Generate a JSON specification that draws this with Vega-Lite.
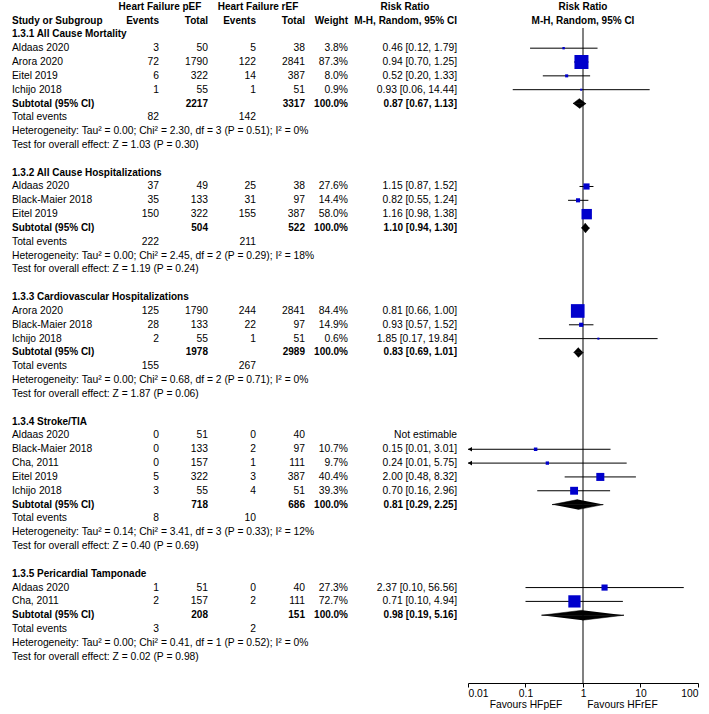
{
  "$schema": "https://vega.github.io/schema/vega-lite/v6.json",
  "padding": 0,
  "spacing": 0,
  "bounds": "flush",
  "config": {
    "view": {"stroke": null},
    "text": {"font": "Liberation Sans", "fontSize": 10.3, "baseline": "middle", "color": "#000"}
  },
  "datasets": {
    "studies": [
      {"row": 3, "study": "Aldaas 2020", "e1": 3, "n1": 50, "e2": 5, "n2": 38, "w": 0.038, "rr": 0.46, "lo": 0.12, "hi": 1.79, "ci": "0.46 [0.12, 1.79]"},
      {"row": 4, "study": "Arora 2020", "e1": 72, "n1": 1790, "e2": 122, "n2": 2841, "w": 0.873, "rr": 0.94, "lo": 0.70, "hi": 1.25, "ci": "0.94 [0.70, 1.25]"},
      {"row": 5, "study": "Eitel 2019", "e1": 6, "n1": 322, "e2": 14, "n2": 387, "w": 0.080, "rr": 0.52, "lo": 0.20, "hi": 1.33, "ci": "0.52 [0.20, 1.33]"},
      {"row": 6, "study": "Ichijo 2018", "e1": 1, "n1": 55, "e2": 1, "n2": 51, "w": 0.009, "rr": 0.93, "lo": 0.06, "hi": 14.44, "ci": "0.93 [0.06, 14.44]"},
      {"row": 13, "study": "Aldaas 2020", "e1": 37, "n1": 49, "e2": 25, "n2": 38, "w": 0.276, "rr": 1.15, "lo": 0.87, "hi": 1.52, "ci": "1.15 [0.87, 1.52]"},
      {"row": 14, "study": "Black-Maier 2018", "e1": 35, "n1": 133, "e2": 31, "n2": 97, "w": 0.144, "rr": 0.82, "lo": 0.55, "hi": 1.24, "ci": "0.82 [0.55, 1.24]"},
      {"row": 15, "study": "Eitel 2019", "e1": 150, "n1": 322, "e2": 155, "n2": 387, "w": 0.580, "rr": 1.16, "lo": 0.98, "hi": 1.38, "ci": "1.16 [0.98, 1.38]"},
      {"row": 22, "study": "Arora 2020", "e1": 125, "n1": 1790, "e2": 244, "n2": 2841, "w": 0.844, "rr": 0.81, "lo": 0.66, "hi": 1.00, "ci": "0.81 [0.66, 1.00]"},
      {"row": 23, "study": "Black-Maier 2018", "e1": 28, "n1": 133, "e2": 22, "n2": 97, "w": 0.149, "rr": 0.93, "lo": 0.57, "hi": 1.52, "ci": "0.93 [0.57, 1.52]"},
      {"row": 24, "study": "Ichijo 2018", "e1": 2, "n1": 55, "e2": 1, "n2": 51, "w": 0.006, "rr": 1.85, "lo": 0.17, "hi": 19.84, "ci": "1.85 [0.17, 19.84]"},
      {"row": 31, "study": "Aldaas 2020", "e1": 0, "n1": 51, "e2": 0, "n2": 40, "ci": "Not estimable"},
      {"row": 32, "study": "Black-Maier 2018", "e1": 0, "n1": 133, "e2": 2, "n2": 97, "w": 0.107, "rr": 0.15, "lo": 0.01, "hi": 3.01, "ci": "0.15 [0.01, 3.01]"},
      {"row": 33, "study": "Cha, 2011", "e1": 0, "n1": 157, "e2": 1, "n2": 111, "w": 0.097, "rr": 0.24, "lo": 0.01, "hi": 5.75, "ci": "0.24 [0.01, 5.75]"},
      {"row": 34, "study": "Eitel 2019", "e1": 5, "n1": 322, "e2": 3, "n2": 387, "w": 0.404, "rr": 2.00, "lo": 0.48, "hi": 8.32, "ci": "2.00 [0.48, 8.32]"},
      {"row": 35, "study": "Ichijo 2018", "e1": 3, "n1": 55, "e2": 4, "n2": 51, "w": 0.393, "rr": 0.70, "lo": 0.16, "hi": 2.96, "ci": "0.70 [0.16, 2.96]"},
      {"row": 42, "study": "Aldaas 2020", "e1": 1, "n1": 51, "e2": 0, "n2": 40, "w": 0.273, "rr": 2.37, "lo": 0.10, "hi": 56.56, "ci": "2.37 [0.10, 56.56]"},
      {"row": 43, "study": "Cha, 2011", "e1": 2, "n1": 157, "e2": 2, "n2": 111, "w": 0.727, "rr": 0.71, "lo": 0.10, "hi": 4.94, "ci": "0.71 [0.10, 4.94]"}
    ],
    "subtotals": [
      {"row": 7, "n1": 2217, "n2": 3317, "w": 1, "rr": 0.87, "lo": 0.67, "hi": 1.13, "ci": "0.87 [0.67, 1.13]"},
      {"row": 16, "n1": 504, "n2": 522, "w": 1, "rr": 1.10, "lo": 0.94, "hi": 1.30, "ci": "1.10 [0.94, 1.30]"},
      {"row": 25, "n1": 1978, "n2": 2989, "w": 1, "rr": 0.83, "lo": 0.69, "hi": 1.01, "ci": "0.83 [0.69, 1.01]"},
      {"row": 36, "n1": 718, "n2": 686, "w": 1, "rr": 0.81, "lo": 0.29, "hi": 2.25, "ci": "0.81 [0.29, 2.25]"},
      {"row": 44, "n1": 208, "n2": 151, "w": 1, "rr": 0.98, "lo": 0.19, "hi": 5.16, "ci": "0.98 [0.19, 5.16]"}
    ],
    "headings": [
      {"row": 2, "label": "1.3.1 All Cause Mortality"},
      {"row": 12, "label": "1.3.2 All Cause Hospitalizations"},
      {"row": 21, "label": "1.3.3 Cardiovascular Hospitalizations"},
      {"row": 30, "label": "1.3.4 Stroke/TIA"},
      {"row": 41, "label": "1.3.5 Pericardial Tamponade"}
    ],
    "totals": [
      {"row": 8, "e1": 82, "e2": 142},
      {"row": 17, "e1": 222, "e2": 211},
      {"row": 26, "e1": 155, "e2": 267},
      {"row": 37, "e1": 8, "e2": 10},
      {"row": 45, "e1": 3, "e2": 2}
    ],
    "notes": [
      {"row": 9, "label": "Heterogeneity: Tau² = 0.00; Chi² = 2.30, df = 3 (P = 0.51); I² = 0%"},
      {"row": 10, "label": "Test for overall effect: Z = 1.03 (P = 0.30)"},
      {"row": 18, "label": "Heterogeneity: Tau² = 0.00; Chi² = 2.45, df = 2 (P = 0.29); I² = 18%"},
      {"row": 19, "label": "Test for overall effect: Z = 1.19 (P = 0.24)"},
      {"row": 27, "label": "Heterogeneity: Tau² = 0.00; Chi² = 0.68, df = 2 (P = 0.71); I² = 0%"},
      {"row": 28, "label": "Test for overall effect: Z = 1.87 (P = 0.06)"},
      {"row": 38, "label": "Heterogeneity: Tau² = 0.14; Chi² = 3.41, df = 3 (P = 0.33); I² = 12%"},
      {"row": 39, "label": "Test for overall effect: Z = 0.40 (P = 0.69)"},
      {"row": 46, "label": "Heterogeneity: Tau² = 0.00; Chi² = 0.41, df = 1 (P = 0.52); I² = 0%"},
      {"row": 47, "label": "Test for overall effect: Z = 0.02 (P = 0.98)"}
    ]
  },
  "hconcat": [
    {
      "width": 468,
      "height": 683,
      "layer": [
        {"data": {"values": [{}]}, "mark": {"type": "text", "text": "Heart Failure pEF", "fontWeight": "bold", "fontSize": 10, "align": "center"},
         "encoding": {"x": {"datum": 34.19, "type": "quantitative", "scale": {"domain": [0, 100], "nice": false, "zero": false}, "axis": null}, "y": {"datum": 0, "type": "quantitative", "scale": {"domain": [-0.484, 48.9], "reverse": true, "nice": false, "zero": false}, "axis": null}}},
        {"data": {"values": [{}]}, "mark": {"type": "text", "text": "Heart Failure rEF", "fontWeight": "bold", "fontSize": 10, "align": "center"},
         "encoding": {"x": {"datum": 55.13, "type": "quantitative", "scale": {"domain": [0, 100], "nice": false, "zero": false}, "axis": null}, "y": {"datum": 0, "type": "quantitative", "scale": {"domain": [-0.484, 48.9], "reverse": true, "nice": false, "zero": false}, "axis": null}}},
        {"data": {"values": [{}]}, "mark": {"type": "text", "text": "Risk Ratio", "fontWeight": "bold", "fontSize": 10, "align": "center"},
         "encoding": {"x": {"datum": 86.54, "type": "quantitative", "scale": {"domain": [0, 100], "nice": false, "zero": false}, "axis": null}, "y": {"datum": 0, "type": "quantitative", "scale": {"domain": [-0.484, 48.9], "reverse": true, "nice": false, "zero": false}, "axis": null}}},
        {"data": {"values": [{}]}, "mark": {"type": "text", "text": "Study or Subgroup", "fontWeight": "bold", "fontSize": 10, "align": "left"},
         "encoding": {"x": {"datum": 2.56, "type": "quantitative", "scale": {"domain": [0, 100], "nice": false, "zero": false}, "axis": null}, "y": {"datum": 1, "type": "quantitative", "scale": {"domain": [-0.484, 48.9], "reverse": true, "nice": false, "zero": false}, "axis": null}}},
        {"data": {"values": [{}]}, "mark": {"type": "text", "text": "Events", "fontWeight": "bold", "fontSize": 10, "align": "right"},
         "encoding": {"x": {"datum": 33.97, "type": "quantitative", "scale": {"domain": [0, 100], "nice": false, "zero": false}, "axis": null}, "y": {"datum": 1, "type": "quantitative", "scale": {"domain": [-0.484, 48.9], "reverse": true, "nice": false, "zero": false}, "axis": null}}},
        {"data": {"values": [{}]}, "mark": {"type": "text", "text": "Total", "fontWeight": "bold", "fontSize": 10, "align": "right"},
         "encoding": {"x": {"datum": 44.44, "type": "quantitative", "scale": {"domain": [0, 100], "nice": false, "zero": false}, "axis": null}, "y": {"datum": 1, "type": "quantitative", "scale": {"domain": [-0.484, 48.9], "reverse": true, "nice": false, "zero": false}, "axis": null}}},
        {"data": {"values": [{}]}, "mark": {"type": "text", "text": "Events", "fontWeight": "bold", "fontSize": 10, "align": "right"},
         "encoding": {"x": {"datum": 54.70, "type": "quantitative", "scale": {"domain": [0, 100], "nice": false, "zero": false}, "axis": null}, "y": {"datum": 1, "type": "quantitative", "scale": {"domain": [-0.484, 48.9], "reverse": true, "nice": false, "zero": false}, "axis": null}}},
        {"data": {"values": [{}]}, "mark": {"type": "text", "text": "Total", "fontWeight": "bold", "fontSize": 10, "align": "right"},
         "encoding": {"x": {"datum": 65.17, "type": "quantitative", "scale": {"domain": [0, 100], "nice": false, "zero": false}, "axis": null}, "y": {"datum": 1, "type": "quantitative", "scale": {"domain": [-0.484, 48.9], "reverse": true, "nice": false, "zero": false}, "axis": null}}},
        {"data": {"values": [{}]}, "mark": {"type": "text", "text": "Weight", "fontWeight": "bold", "fontSize": 10, "align": "right"},
         "encoding": {"x": {"datum": 74.36, "type": "quantitative", "scale": {"domain": [0, 100], "nice": false, "zero": false}, "axis": null}, "y": {"datum": 1, "type": "quantitative", "scale": {"domain": [-0.484, 48.9], "reverse": true, "nice": false, "zero": false}, "axis": null}}},
        {"data": {"values": [{}]}, "mark": {"type": "text", "text": "M-H, Random, 95% CI", "fontWeight": "bold", "fontSize": 10, "align": "right"},
         "encoding": {"x": {"datum": 97.65, "type": "quantitative", "scale": {"domain": [0, 100], "nice": false, "zero": false}, "axis": null}, "y": {"datum": 1, "type": "quantitative", "scale": {"domain": [-0.484, 48.9], "reverse": true, "nice": false, "zero": false}, "axis": null}}},

        {"data": {"name": "studies"}, "mark": {"type": "text", "align": "left"},
         "encoding": {"x": {"datum": 2.56, "type": "quantitative", "scale": {"domain": [0, 100], "nice": false, "zero": false}, "axis": null}, "y": {"field": "row", "type": "quantitative", "scale": {"domain": [-0.484, 48.9], "reverse": true, "nice": false, "zero": false}, "axis": null}, "text": {"field": "study", "type": "nominal"}}},
        {"data": {"name": "studies"}, "mark": {"type": "text", "align": "right"},
         "encoding": {"x": {"datum": 33.97, "type": "quantitative", "scale": {"domain": [0, 100], "nice": false, "zero": false}, "axis": null}, "y": {"field": "row", "type": "quantitative", "scale": {"domain": [-0.484, 48.9], "reverse": true, "nice": false, "zero": false}, "axis": null}, "text": {"field": "e1", "type": "nominal"}}},
        {"data": {"name": "studies"}, "mark": {"type": "text", "align": "right"},
         "encoding": {"x": {"datum": 44.44, "type": "quantitative", "scale": {"domain": [0, 100], "nice": false, "zero": false}, "axis": null}, "y": {"field": "row", "type": "quantitative", "scale": {"domain": [-0.484, 48.9], "reverse": true, "nice": false, "zero": false}, "axis": null}, "text": {"field": "n1", "type": "nominal"}}},
        {"data": {"name": "studies"}, "mark": {"type": "text", "align": "right"},
         "encoding": {"x": {"datum": 54.70, "type": "quantitative", "scale": {"domain": [0, 100], "nice": false, "zero": false}, "axis": null}, "y": {"field": "row", "type": "quantitative", "scale": {"domain": [-0.484, 48.9], "reverse": true, "nice": false, "zero": false}, "axis": null}, "text": {"field": "e2", "type": "nominal"}}},
        {"data": {"name": "studies"}, "mark": {"type": "text", "align": "right"},
         "encoding": {"x": {"datum": 65.17, "type": "quantitative", "scale": {"domain": [0, 100], "nice": false, "zero": false}, "axis": null}, "y": {"field": "row", "type": "quantitative", "scale": {"domain": [-0.484, 48.9], "reverse": true, "nice": false, "zero": false}, "axis": null}, "text": {"field": "n2", "type": "nominal"}}},
        {"data": {"name": "studies"}, "transform": [{"filter": "datum.w != null"}], "mark": {"type": "text", "align": "right"},
         "encoding": {"x": {"datum": 74.36, "type": "quantitative", "scale": {"domain": [0, 100], "nice": false, "zero": false}, "axis": null}, "y": {"field": "row", "type": "quantitative", "scale": {"domain": [-0.484, 48.9], "reverse": true, "nice": false, "zero": false}, "axis": null}, "text": {"field": "w", "type": "quantitative", "format": ".1%"}}},
        {"data": {"name": "studies"}, "mark": {"type": "text", "align": "right"},
         "encoding": {"x": {"datum": 97.65, "type": "quantitative", "scale": {"domain": [0, 100], "nice": false, "zero": false}, "axis": null}, "y": {"field": "row", "type": "quantitative", "scale": {"domain": [-0.484, 48.9], "reverse": true, "nice": false, "zero": false}, "axis": null}, "text": {"field": "ci", "type": "nominal"}}},

        {"data": {"name": "subtotals"}, "mark": {"type": "text", "align": "left", "fontWeight": "bold", "fontSize": 10, "text": "Subtotal (95% CI)"},
         "encoding": {"x": {"datum": 2.56, "type": "quantitative", "scale": {"domain": [0, 100], "nice": false, "zero": false}, "axis": null}, "y": {"field": "row", "type": "quantitative", "scale": {"domain": [-0.484, 48.9], "reverse": true, "nice": false, "zero": false}, "axis": null}}},
        {"data": {"name": "subtotals"}, "mark": {"type": "text", "align": "right", "fontWeight": "bold", "fontSize": 10},
         "encoding": {"x": {"datum": 44.44, "type": "quantitative", "scale": {"domain": [0, 100], "nice": false, "zero": false}, "axis": null}, "y": {"field": "row", "type": "quantitative", "scale": {"domain": [-0.484, 48.9], "reverse": true, "nice": false, "zero": false}, "axis": null}, "text": {"field": "n1", "type": "nominal"}}},
        {"data": {"name": "subtotals"}, "mark": {"type": "text", "align": "right", "fontWeight": "bold", "fontSize": 10},
         "encoding": {"x": {"datum": 65.17, "type": "quantitative", "scale": {"domain": [0, 100], "nice": false, "zero": false}, "axis": null}, "y": {"field": "row", "type": "quantitative", "scale": {"domain": [-0.484, 48.9], "reverse": true, "nice": false, "zero": false}, "axis": null}, "text": {"field": "n2", "type": "nominal"}}},
        {"data": {"name": "subtotals"}, "mark": {"type": "text", "align": "right", "fontWeight": "bold", "fontSize": 10},
         "encoding": {"x": {"datum": 74.36, "type": "quantitative", "scale": {"domain": [0, 100], "nice": false, "zero": false}, "axis": null}, "y": {"field": "row", "type": "quantitative", "scale": {"domain": [-0.484, 48.9], "reverse": true, "nice": false, "zero": false}, "axis": null}, "text": {"field": "w", "type": "quantitative", "format": ".1%"}}},
        {"data": {"name": "subtotals"}, "mark": {"type": "text", "align": "right", "fontWeight": "bold", "fontSize": 10},
         "encoding": {"x": {"datum": 97.65, "type": "quantitative", "scale": {"domain": [0, 100], "nice": false, "zero": false}, "axis": null}, "y": {"field": "row", "type": "quantitative", "scale": {"domain": [-0.484, 48.9], "reverse": true, "nice": false, "zero": false}, "axis": null}, "text": {"field": "ci", "type": "nominal"}}},

        {"data": {"name": "headings"}, "mark": {"type": "text", "align": "left", "fontWeight": "bold", "fontSize": 10},
         "encoding": {"x": {"datum": 2.56, "type": "quantitative", "scale": {"domain": [0, 100], "nice": false, "zero": false}, "axis": null}, "y": {"field": "row", "type": "quantitative", "scale": {"domain": [-0.484, 48.9], "reverse": true, "nice": false, "zero": false}, "axis": null}, "text": {"field": "label", "type": "nominal"}}},

        {"data": {"name": "totals"}, "mark": {"type": "text", "align": "left", "text": "Total events"},
         "encoding": {"x": {"datum": 2.56, "type": "quantitative", "scale": {"domain": [0, 100], "nice": false, "zero": false}, "axis": null}, "y": {"field": "row", "type": "quantitative", "scale": {"domain": [-0.484, 48.9], "reverse": true, "nice": false, "zero": false}, "axis": null}}},
        {"data": {"name": "totals"}, "mark": {"type": "text", "align": "right"},
         "encoding": {"x": {"datum": 33.97, "type": "quantitative", "scale": {"domain": [0, 100], "nice": false, "zero": false}, "axis": null}, "y": {"field": "row", "type": "quantitative", "scale": {"domain": [-0.484, 48.9], "reverse": true, "nice": false, "zero": false}, "axis": null}, "text": {"field": "e1", "type": "nominal"}}},
        {"data": {"name": "totals"}, "mark": {"type": "text", "align": "right"},
         "encoding": {"x": {"datum": 54.70, "type": "quantitative", "scale": {"domain": [0, 100], "nice": false, "zero": false}, "axis": null}, "y": {"field": "row", "type": "quantitative", "scale": {"domain": [-0.484, 48.9], "reverse": true, "nice": false, "zero": false}, "axis": null}, "text": {"field": "e2", "type": "nominal"}}},

        {"data": {"name": "notes"}, "mark": {"type": "text", "align": "left"},
         "encoding": {"x": {"datum": 2.56, "type": "quantitative", "scale": {"domain": [0, 100], "nice": false, "zero": false}, "axis": null}, "y": {"field": "row", "type": "quantitative", "scale": {"domain": [-0.484, 48.9], "reverse": true, "nice": false, "zero": false}, "axis": null}, "text": {"field": "label", "type": "nominal"}}}
      ]
    },
    {
      "width": 230,
      "height": 683,
      "resolve": {"scale": {"size": "independent", "y": "independent", "yOffset": "independent"}},
      "layer": [
        {"data": {"values": [{}]}, "mark": {"type": "rule", "color": "#808080", "strokeWidth": 2},
         "encoding": {
           "x": {"datum": 1, "type": "quantitative", "scale": {"type": "log", "domain": [0.01, 100], "nice": false},
                 "axis": {"values": [0.01, 0.1, 1, 10, 100], "format": "~g", "labelFlush": true, "grid": false, "title": null, "tickSize": 4, "labelPadding": 1, "labelFontSize": 10.3, "labelFont": "Liberation Sans", "labelColor": "#000", "tickColor": "#000", "domainColor": "#000"}},
           "y": {"datum": 1.54, "type": "quantitative", "scale": {"domain": [-0.484, 48.9], "reverse": true, "nice": false, "zero": false}, "axis": null},
           "y2": {"datum": 48.9}
         }},
        {"data": {"name": "studies"}, "transform": [{"filter": "datum.rr != null"}], "mark": {"type": "rule", "color": "#000", "strokeWidth": 1},
         "encoding": {
           "x": {"field": "lo", "type": "quantitative", "scale": {"type": "log", "domain": [0.01, 100], "nice": false}, "axis": {"values": [0.01, 0.1, 1, 10, 100], "format": "~g", "labelFlush": true, "grid": false, "title": null}},
           "x2": {"field": "hi"},
           "y": {"field": "row", "type": "quantitative", "scale": {"domain": [-0.484, 48.9], "reverse": true, "nice": false, "zero": false}, "axis": null}
         }},
        {"data": {"name": "studies"}, "transform": [{"filter": "datum.rr != null && datum.lo <= 0.01"}], "mark": {"type": "point", "shape": "triangle-left", "filled": true, "color": "#000", "opacity": 1, "size": 22, "xOffset": 2},
         "encoding": {
           "x": {"field": "lo", "type": "quantitative", "scale": {"type": "log", "domain": [0.01, 100], "nice": false}, "axis": {"values": [0.01, 0.1, 1, 10, 100], "format": "~g", "labelFlush": true, "grid": false, "title": null}},
           "y": {"field": "row", "type": "quantitative", "scale": {"domain": [-0.484, 48.9], "reverse": true, "nice": false, "zero": false}, "axis": null}
         }},
        {"data": {"name": "studies"}, "transform": [{"filter": "datum.rr != null"}], "mark": {"type": "point", "shape": "square", "filled": true, "color": "#0000CC", "opacity": 1},
         "encoding": {
           "x": {"field": "rr", "type": "quantitative", "scale": {"type": "log", "domain": [0.01, 100], "nice": false}, "axis": {"values": [0.01, 0.1, 1, 10, 100], "format": "~g", "labelFlush": true, "grid": false, "title": null}},
           "y": {"field": "row", "type": "quantitative", "scale": {"domain": [-0.484, 48.9], "reverse": true, "nice": false, "zero": false}, "axis": null},
           "size": {"field": "w", "type": "quantitative", "scale": {"type": "pow", "exponent": 1.5, "domain": [0, 1], "range": [4, 240]}, "legend": null}
         }},
        {"data": {"name": "subtotals"},
         "transform": [{"fold": ["lo", "rr", "hi"], "as": ["k", "v"]}, {"window": [{"op": "row_number", "as": "idx"}], "groupby": ["row"], "sort": [{"field": "v", "order": "ascending"}]}],
         "mark": {"type": "line", "fill": "#000", "stroke": "#000", "strokeWidth": 0.5},
         "encoding": {
           "x": {"field": "v", "type": "quantitative", "scale": {"type": "log", "domain": [0.01, 100], "nice": false}, "axis": {"values": [0.01, 0.1, 1, 10, 100], "format": "~g", "labelFlush": true, "grid": false, "title": null}},
           "y": {"field": "row", "type": "ordinal", "scale": {"type": "point", "domain": [0,1,2,3,4,5,6,7,8,9,10,11,12,13,14,15,16,17,18,19,20,21,22,23,24,25,26,27,28,29,30,31,32,33,34,35,36,37,38,39,40,41,42,43,44,45,46,47,48], "range": [6.694, 670.55], "padding": 0}, "axis": null},
           "yOffset": {"field": "idx", "type": "quantitative", "scale": {"domain": [1, 2, 3], "range": [0, -5, 0], "nice": false, "zero": false}},
           "detail": {"field": "row", "type": "nominal"}
         }},
        {"data": {"name": "subtotals"},
         "transform": [{"fold": ["lo", "rr", "hi"], "as": ["k", "v"]}, {"window": [{"op": "row_number", "as": "idx"}], "groupby": ["row"], "sort": [{"field": "v", "order": "ascending"}]}],
         "mark": {"type": "line", "fill": "#000", "stroke": "#000", "strokeWidth": 0.5},
         "encoding": {
           "x": {"field": "v", "type": "quantitative", "scale": {"type": "log", "domain": [0.01, 100], "nice": false}, "axis": {"values": [0.01, 0.1, 1, 10, 100], "format": "~g", "labelFlush": true, "grid": false, "title": null}},
           "y": {"field": "row", "type": "ordinal", "scale": {"type": "point", "domain": [0,1,2,3,4,5,6,7,8,9,10,11,12,13,14,15,16,17,18,19,20,21,22,23,24,25,26,27,28,29,30,31,32,33,34,35,36,37,38,39,40,41,42,43,44,45,46,47,48], "range": [6.694, 670.55], "padding": 0}, "axis": null},
           "yOffset": {"field": "idx", "type": "quantitative", "scale": {"domain": [1, 2, 3], "range": [0, 5, 0], "nice": false, "zero": false}},
           "detail": {"field": "row", "type": "nominal"}
         }},
        {"data": {"values": [{}]}, "mark": {"type": "text", "text": "Risk Ratio", "fontWeight": "bold", "fontSize": 10, "align": "center"},
         "encoding": {"x": {"datum": 1, "type": "quantitative", "scale": {"type": "log", "domain": [0.01, 100], "nice": false}}, "y": {"datum": 0, "type": "quantitative", "scale": {"domain": [-0.484, 48.9], "reverse": true, "nice": false, "zero": false}, "axis": null}}},
        {"data": {"values": [{}]}, "mark": {"type": "text", "text": "M-H, Random, 95% CI", "fontWeight": "bold", "fontSize": 10, "align": "center"},
         "encoding": {"x": {"datum": 1, "type": "quantitative", "scale": {"type": "log", "domain": [0.01, 100], "nice": false}}, "y": {"datum": 1, "type": "quantitative", "scale": {"domain": [-0.484, 48.9], "reverse": true, "nice": false, "zero": false}, "axis": null}}},
        {"data": {"values": [{}]}, "mark": {"type": "text", "text": "Favours HFpEF", "align": "right"},
         "encoding": {"x": {"datum": 0.4365, "type": "quantitative", "scale": {"type": "log", "domain": [0.01, 100], "nice": false}}, "y": {"datum": 50.49, "type": "quantitative", "scale": {"domain": [-0.484, 48.9], "reverse": true, "nice": false, "zero": false}, "axis": null}}},
        {"data": {"values": [{}]}, "mark": {"type": "text", "text": "Favours HFrEF", "align": "left"},
         "encoding": {"x": {"datum": 1.188, "type": "quantitative", "scale": {"type": "log", "domain": [0.01, 100], "nice": false}}, "y": {"datum": 50.49, "type": "quantitative", "scale": {"domain": [-0.484, 48.9], "reverse": true, "nice": false, "zero": false}, "axis": null}}}
      ]
    }
  ]
}
